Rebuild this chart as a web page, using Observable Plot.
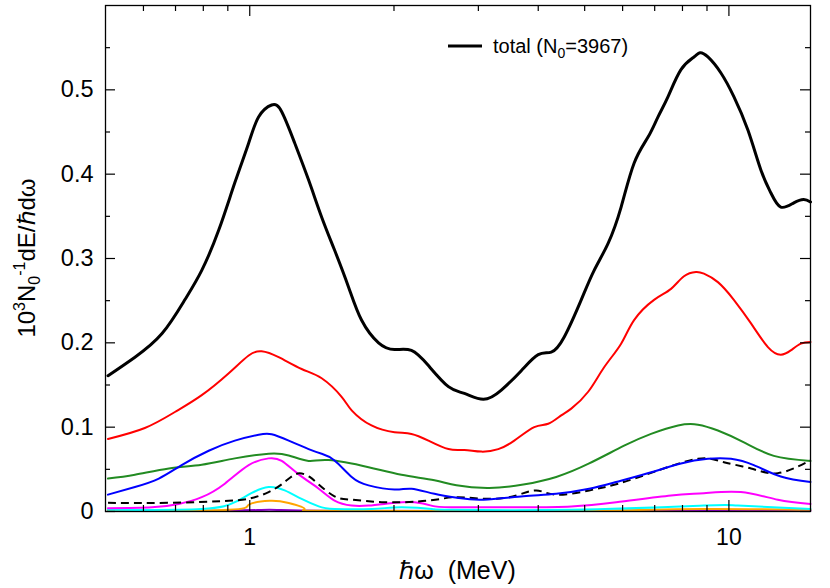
<!DOCTYPE html>
<html>
<head>
<meta charset="utf-8">
<script src="https://cdn.jsdelivr.net/npm/d3@7"></script>
<script src="https://cdn.jsdelivr.net/npm/@observablehq/plot@0.6"></script>
<style>
  html, body { margin: 0; padding: 0; background: white; }
  #chart { width: 830px; height: 588px; }
</style>
</head>
<body>
<div id="chart"></div>
<script>
// ---- data (energies in MeV, values in 10^3 N0^-1 dE/ħdω) ----
const totalE = [0.506,0.576,0.656,0.732,0.794,0.862,0.931,0.995,1.044,1.111,1.166,1.241,1.327,1.413,1.503,1.608,1.711,1.857,2.005,2.175,2.36,2.598,2.805,3.073,3.35,3.687,4.0,4.258,4.532,4.918,5.233,5.596,5.957,6.34,6.78,7.113,7.464,7.943,8.453,8.701,9.04,9.624,10.24,10.96,11.66,12.23,12.83,13.66,14.33,14.8];
const totalY = [0.161,0.183,0.211,0.251,0.286,0.334,0.390,0.437,0.468,0.482,0.474,0.437,0.393,0.349,0.310,0.266,0.227,0.200,0.192,0.191,0.173,0.148,0.140,0.133,0.144,0.167,0.186,0.189,0.207,0.251,0.286,0.318,0.361,0.413,0.444,0.468,0.492,0.524,0.539,0.544,0.539,0.520,0.492,0.452,0.405,0.378,0.361,0.366,0.370,0.367];

const redE = [0.506,0.604,0.698,0.794,0.904,0.995,1.059,1.149,1.283,1.413,1.555,1.632,1.795,2.005,2.175,2.36,2.598,2.805,3.044,3.301,3.565,3.924,4.197,4.467,4.688,5.085,5.49,5.957,6.34,6.979,7.572,8.058,8.535,8.869,9.484,10.24,11.12,12.06,12.83,13.46,14.13,14.8];
const redY = [0.086,0.099,0.118,0.138,0.164,0.185,0.190,0.183,0.169,0.158,0.136,0.120,0.102,0.094,0.092,0.084,0.074,0.073,0.071,0.074,0.084,0.100,0.104,0.114,0.122,0.142,0.171,0.199,0.227,0.251,0.264,0.279,0.284,0.282,0.272,0.251,0.223,0.195,0.186,0.191,0.199,0.201];

const greenE = [0.506,0.576,0.678,0.794,0.931,1.095,1.206,1.327,1.461,1.77,2.073,2.429,2.7,3.162,3.723,4.361,5.109,6.043,6.879,7.832,8.618,9.484,10.75,12.41,14.8];
const greenY = [0.039,0.0435,0.051,0.0555,0.063,0.0685,0.0665,0.060,0.061,0.0525,0.0435,0.037,0.031,0.028,0.032,0.041,0.057,0.078,0.092,0.102,0.103,0.096,0.082,0.066,0.060];

const blueE = [0.506,0.576,0.646,0.721,0.821,0.931,1.044,1.111,1.206,1.327,1.413,1.503,1.632,1.77,2.005,2.175,2.429,2.726,3.073,3.723,4.361,5.109,5.816,6.979,7.943,9.04,10.10,11.27,12.83,14.8];
const blueY = [0.020,0.029,0.039,0.055,0.072,0.084,0.091,0.0915,0.084,0.074,0.0685,0.0605,0.041,0.031,0.026,0.027,0.021,0.016,0.014,0.018,0.021,0.027,0.035,0.0475,0.057,0.0625,0.0625,0.055,0.0415,0.035];

const magentaE = [0.506,0.625,0.711,0.794,0.887,0.995,1.095,1.166,1.265,1.393,1.503,1.632,1.77,2.005,2.207,2.394,2.636,3.723,4.688,5.816,7.572,8.869,10.59,12.65,14.8];
const magentaY = [0.004,0.005,0.009,0.017,0.033,0.055,0.063,0.060,0.044,0.027,0.013,0.007,0.007,0.0103,0.011,0.007,0.005,0.005,0.006,0.011,0.019,0.0217,0.023,0.014,0.009];

const cyanE = [0.506,0.794,0.931,1.01,1.095,1.183,1.283,1.393,1.503,1.8,2.073,2.4,2.636,4.688,8.869,10.44,14.8];
const cyanY = [0.002,0.003,0.011,0.022,0.029,0.025,0.015,0.006,0.003,0.003,0.005,0.003,0.002,0.002,0.007,0.007,0.003];

const orangeE = [0.506,0.904,0.995,1.1,1.206,1.302,1.393,2.636,5.4,8.8,14.8];
const orangeY = [0.0005,0.002,0.008,0.0127,0.010,0.003,0.0008,0.0005,0.001,0.003,0.002];

const purpleE = [0.506,0.9,1.1,1.4,3,9,14.8];
const purpleY = [0.0005,0.001,0.002,0.0008,0.0005,0.001,0.0008];

const dashE = [0.506,0.678,0.904,1.01,1.095,1.183,1.259,1.334,1.393,1.503,1.632,1.911,2.249,2.512,2.726,3.162,3.60,3.962,4.361,5.109,5.872,6.979,8.618,9.763,11.12,12.65,14.8];
const dashY = [0.0103,0.0103,0.0127,0.016,0.023,0.035,0.045,0.041,0.032,0.018,0.014,0.011,0.012,0.015,0.017,0.015,0.019,0.025,0.020,0.025,0.033,0.047,0.0625,0.0585,0.051,0.0455,0.0605];

const xMajor = [1, 10];
const xMinor = [0.6, 0.7, 0.8, 0.9, 2, 3, 4, 5, 6, 7, 8, 9];
const yMajor = [0, 0.1, 0.2, 0.3, 0.4, 0.5];
const yMinor = [0.05, 0.15, 0.25, 0.35, 0.45, 0.55];

const legendName = "total";
const legendN0 = "3967";

// ---- layout ----
const W = 830, H = 588, mL = 105, mR = 20, mT = 5, mB = 77;
const fw = W - mL - mR, fh = H - mT - mB;
const FONT = "'Liberation Sans', Arial, Helvetica, sans-serif";

const tbl = (E, Y) => E.map((e, i) => ({e, v: Y[i]}));
const line = (E, Y, o) => Plot.line(tbl(E, Y), {x: "e", y: "v", curve: "natural", strokeLinejoin: "round", strokeLinecap: "round", ...o});

const svg = Plot.plot({
  width: W, height: H,
  marginLeft: mL, marginRight: mR, marginTop: mT, marginBottom: mB,
  style: {fontFamily: FONT, fontSize: "22px", background: "white", color: "black"},
  x: {type: "log", domain: [0.5, 14.8]},
  y: {domain: [0, 0.6]},
  marks: [
    line(purpleE, purpleY, {stroke: "#8a00c8", strokeWidth: 2}),
    line(orangeE, orangeY, {stroke: "#ffa500", strokeWidth: 2}),
    line(cyanE, cyanY, {stroke: "#00ffff", strokeWidth: 2}),
    line(magentaE, magentaY, {stroke: "#ff00ff", strokeWidth: 2}),
    line(greenE, greenY, {stroke: "#228b22", strokeWidth: 2}),
    line(dashE, dashY, {stroke: "black", strokeWidth: 2, strokeDasharray: "8,5", strokeLinecap: "butt"}),
    line(blueE, blueY, {stroke: "#0000ff", strokeWidth: 2}),
    line(redE, redY, {stroke: "#ff0000", strokeWidth: 2}),
    line(totalE, totalY, {stroke: "black", strokeWidth: 3}),
    Plot.frame({stroke: "black", strokeWidth: 1.3}),
    Plot.tickX(xMajor, {x: d => d, insetTop: fh - 11, stroke: "black", strokeWidth: 1.2}),
    Plot.tickX(xMajor, {x: d => d, insetBottom: fh - 11, stroke: "black", strokeWidth: 1.2}),
    Plot.tickX(xMinor, {x: d => d, insetTop: fh - 6, stroke: "black", strokeWidth: 1.2}),
    Plot.tickX(xMinor, {x: d => d, insetBottom: fh - 6, stroke: "black", strokeWidth: 1.2}),
    Plot.tickY(yMajor, {y: d => d, insetRight: fw - 10, stroke: "black", strokeWidth: 1.2}),
    Plot.tickY(yMajor, {y: d => d, insetLeft: fw - 10, stroke: "black", strokeWidth: 1.2}),
    Plot.tickY(yMinor, {y: d => d, insetRight: fw - 5, stroke: "black", strokeWidth: 1.2}),
    Plot.tickY(yMinor, {y: d => d, insetLeft: fw - 5, stroke: "black", strokeWidth: 1.2}),
    Plot.axisX(xMajor, {tickSize: 0, tickPadding: 17, tickFormat: d => String(d), label: null, fontSize: 23}),
    Plot.axisY(yMajor, {tickSize: 0, tickPadding: 12, tickFormat: d => d === 0 ? "0" : d.toFixed(1), label: null, fontSize: 23.5})
  ]
});

const s = d3.select(svg);

// y-axis title
const yl = s.append("text")
  .attr("transform", `translate(35,${mT + fh / 2}) rotate(-90)`)
  .attr("text-anchor", "middle")
  .style("font-family", FONT).style("font-size", "24px").attr("fill", "black");
yl.append("tspan").text("10");
yl.append("tspan").attr("dy", -10).style("font-size", "16px").text("3");
yl.append("tspan").attr("dy", 10).text("N");
yl.append("tspan").attr("dy", 5).style("font-size", "16px").text("0");
yl.append("tspan").attr("dy", -15).style("font-size", "16px").text("-1");
yl.append("tspan").attr("dy", 10).text("dE/ℏdω");

// x-axis title
s.append("text")
  .attr("x", mL + fw / 2).attr("y", 579)
  .attr("text-anchor", "middle")
  .style("font-family", FONT).style("font-size", "25px").attr("fill", "black")
  .text("ℏω\u00a0\u00a0(MeV)");

// legend
s.append("line").attr("x1", 448).attr("x2", 482).attr("y1", 46).attr("y2", 46)
  .attr("stroke", "black").attr("stroke-width", 3);
const lt = s.append("text").attr("x", 493).attr("y", 53)
  .attr("text-anchor", "start")
  .style("font-family", FONT).style("font-size", "20px").attr("fill", "black");
lt.append("tspan").text(legendName + " (N");
lt.append("tspan").attr("dy", 5).style("font-size", "14px").text("0");
lt.append("tspan").attr("dy", -5).text("=" + legendN0 + ")");

document.getElementById("chart").appendChild(svg);
</script>
</body>
</html>
